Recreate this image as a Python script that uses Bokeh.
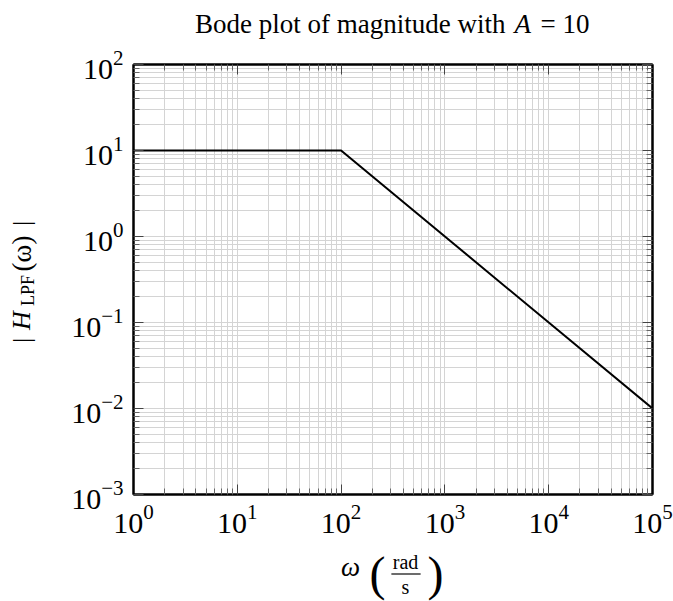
from bokeh.plotting import figure
from bokeh.layouts import column, row
from bokeh.models import LogAxis, FixedTicker, Label, BoxAnnotation, LogTickFormatter, CustomJSTickFormatter
from bokeh.embed import file_html
from bokeh.resources import INLINE

# ---- data ----
omega = [1.0, 100.0, 1e5]          # rad/s
magnitude = [10.0, 10.0, 0.01]     # |H_LPF(omega)|
x_exponents = [0, 1, 2, 3, 4, 5]
y_exponents = [-3, -2, -1, 0, 1, 2]
title_parts = ["Bode plot of magnitude with", "A", "= 10"]
ylabel_parts = ["|", "H", "LPF", "(ω)", "|"]
xlabel_parts = ["ω", "(", "rad", "s", ")"]

# ---- layout constants (canvas pixels) ----
W, H = 673, 601
TITLE_H = 40          # title strip
XLAB_H = 56           # x-label strip
YLAB_W = 50           # y-label strip
MID_H = H - TITLE_H - XLAB_H
FRAME_L, FRAME_T, FRAME_R, FRAME_B = 133, 64, 652, 494
FONT = "Liberation Serif"
GRID = "#d4d4d4"

x_major = [10.0 ** e for e in x_exponents]
y_major = [10.0 ** e for e in y_exponents]
x_minor = [m * 10.0 ** e for e in x_exponents[:-1] for m in range(2, 10)]
y_minor = [m * 10.0 ** e for e in y_exponents[:-1] for m in range(2, 10)]

p = figure(width=W - YLAB_W, height=MID_H, x_axis_type="log", y_axis_type="log",
           x_range=(x_major[0], x_major[-1]), y_range=(y_major[0], y_major[-1]),
           output_backend="svg", toolbar_location=None,
           min_border_left=FRAME_L - YLAB_W, min_border_right=W - FRAME_R,
           min_border_top=FRAME_T - TITLE_H, min_border_bottom=(TITLE_H + MID_H) - FRAME_B)
p.background_fill_color = "white"
p.border_fill_color = "white"
p.outline_line_color = "black"
p.outline_line_width = 2

xt = FixedTicker(ticks=x_major, minor_ticks=x_minor)
yt = FixedTicker(ticks=y_major, minor_ticks=y_minor)


def style_axis(ax, show_labels=True):
    ax.axis_line_color = "black"
    ax.axis_line_width = 2
    ax.major_tick_in = 10
    ax.major_tick_out = 0
    ax.minor_tick_in = 6
    ax.minor_tick_out = 0
    ax.major_tick_line_color = "#444444"
    ax.minor_tick_line_color = "#666666"
    ax.major_tick_line_width = 1
    ax.minor_tick_line_width = 1
    ax.axis_label = None
    if show_labels:
        ax.formatter = LogTickFormatter()
        ax.major_label_text_font = FONT
        ax.major_label_text_font_size = "30px"
        ax.major_label_text_color = "black"
        ax.major_label_standoff = 10
    else:
        ax.formatter = CustomJSTickFormatter(code="return ''")
        ax.major_label_text_font_size = "0px"
        ax.major_label_standoff = 0


for ax in p.xaxis:
    ax.ticker = xt
    style_axis(ax)
for ax in p.yaxis:
    ax.ticker = yt
    style_axis(ax)
top = LogAxis(ticker=xt)
style_axis(top, False)
p.add_layout(top, "above")
right = LogAxis(ticker=yt)
style_axis(right, False)
p.add_layout(right, "right")

p.xgrid.ticker = xt
p.ygrid.ticker = yt
for g in (p.xgrid, p.ygrid):
    g.grid_line_color = GRID
    g.grid_line_width = 1
    g.minor_grid_line_color = GRID
    g.minor_grid_line_width = 1

p.line(omega, magnitude, line_color="black", line_width=2)


def strip(w, h):
    f = figure(width=w, height=h, x_range=(0, w), y_range=(0, h),
               x_axis_location=None, y_axis_location=None,
               output_backend="svg", toolbar_location=None, min_border=0)
    f.grid.visible = False
    f.outline_line_color = None
    f.background_fill_color = "white"
    f.border_fill_color = "white"
    return f


def lab(fig, x0, y0, h, text, cx, cy, size, style="normal", align="center",
        baseline="middle", angle=0.0):
    # (x0, y0): canvas position of the strip's top-left corner; h: strip height
    fig.add_layout(Label(x=cx - x0, y=(y0 + h) - cy, x_units="screen", y_units="screen",
                         text=text, text_font=FONT, text_font_size=f"{size}px",
                         text_font_style=style, text_align=align, text_baseline=baseline,
                         text_color="black", angle=angle))


# title strip (positions calibrated against the rendered strip)
TDY = -7
t = strip(W, TITLE_H)
lab(t, 0, 0, TITLE_H, title_parts[0], 505, 30 + TDY, 27, align="right", baseline="alphabetic")
lab(t, 0, 0, TITLE_H, title_parts[1], 514, 30 + TDY, 27, style="italic", align="left", baseline="alphabetic")
lab(t, 0, 0, TITLE_H, title_parts[2], 540, 30 + TDY, 27, align="left", baseline="alphabetic")

# y-label strip (rotated text)
YDY = 51
yl = strip(YLAB_W, MID_H)
rot = 1.5707963
lab(yl, 0, TITLE_H, MID_H, ylabel_parts[0], 21, 340 + YDY, 26, angle=rot)
lab(yl, 0, TITLE_H, MID_H, ylabel_parts[1], 21, 320 + YDY, 26, style="italic", angle=rot)
lab(yl, 0, TITLE_H, MID_H, ylabel_parts[2], 27, 290 + YDY, 18, angle=rot)
lab(yl, 0, TITLE_H, MID_H, ylabel_parts[3], 21, 253 + YDY, 27, angle=rot)
lab(yl, 0, TITLE_H, MID_H, ylabel_parts[4], 21, 223 + YDY, 26, angle=rot)

# x-label strip
xl = strip(W, XLAB_H)
X0Y = TITLE_H + MID_H
lab(xl, 0, X0Y, XLAB_H, xlabel_parts[0], 350, 566, 27, style="italic")
lab(xl, 0, X0Y, XLAB_H, xlabel_parts[1], 377, 573, 48)
lab(xl, 0, X0Y, XLAB_H, xlabel_parts[2], 405, 561, 20)
lab(xl, 0, X0Y, XLAB_H, xlabel_parts[3], 405, 586, 20)
lab(xl, 0, X0Y, XLAB_H, xlabel_parts[4], 435, 573, 48)
xl.add_layout(BoxAnnotation(left=391, right=420, bottom=(X0Y + XLAB_H) - 574, top=(X0Y + XLAB_H) - 573,
                            left_units="screen", right_units="screen",
                            bottom_units="screen", top_units="screen",
                            fill_color="black", fill_alpha=1.0, line_color="black",
                            line_width=0.5))

layout = column(t, row(yl, p, spacing=0), xl, spacing=0)
open("out.html", "w").write(file_html(layout, INLINE))
